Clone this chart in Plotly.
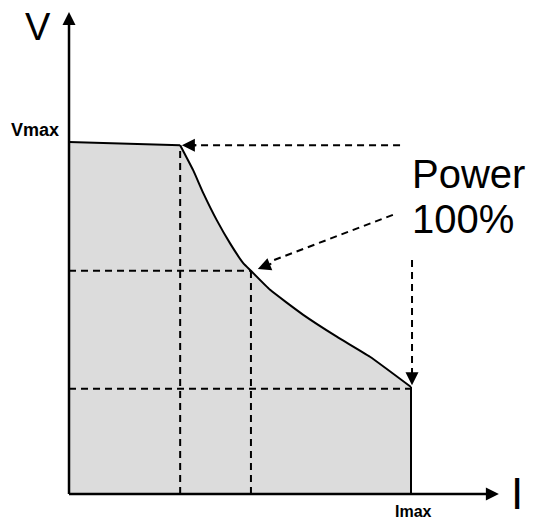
import plotly.graph_objects as go

# Data (I and V in % of Imax / Vmax)
I_curve = [0, 32.5, 36.3, 39.3, 43.2, 47.1, 51.0, 53.2, 58.8, 68.5, 78.3, 88.0, 100, 100]
V_curve = [100, 99.1, 92.0, 85.4, 77.8, 71.2, 65.5, 63.4, 58.0, 50.9, 44.7, 39.0, 30.4, 0]

P1 = (32.5, 99.1)    # start of constant power region
P2 = (53.2, 63.4)    # mid point
P3 = (100, 30.4)     # Imax point
AXIS_I_END = 125.7
AXIS_V_END = 136.9

labels = {"V": "V", "I": "I", "Vmax": "Vmax", "Imax": "Imax", "power": "Power", "pct": "100%"}

FONT = "Arial, Liberation Sans, sans-serif"

fig = go.Figure()
# filled region
fig.add_trace(go.Scatter(x=I_curve, y=V_curve, mode="lines", fill="tozeroy",
                         fillcolor="#dcdcdc", line=dict(color="rgba(0,0,0,0)", width=0),
                         hoverinfo="skip", showlegend=False))
# outline: flat part, smooth power curve, vertical drop
fig.add_trace(go.Scatter(x=I_curve[:2], y=V_curve[:2], mode="lines",
                         line=dict(color="black", width=2), hoverinfo="skip", showlegend=False))
fig.add_trace(go.Scatter(x=I_curve[1:-1], y=V_curve[1:-1], mode="lines",
                         line=dict(color="black", width=2, shape="spline", smoothing=0.45),
                         hoverinfo="skip", showlegend=False))
fig.add_trace(go.Scatter(x=I_curve[-2:], y=V_curve[-2:], mode="lines",
                         line=dict(color="black", width=2), hoverinfo="skip", showlegend=False))

shapes = []
def dline(x0, y0, x1, y1, dash="dash", w=2):
    shapes.append(dict(type="line", xref="x", yref="y", x0=x0, y0=y0, x1=x1, y1=y1,
                       line=dict(color="black", width=w, dash=dash), layer="above"))

dashp = "7px,5px"
# guide lines
dline(P1[0], 0, P1[0], P1[1], dashp)
dline(0, P2[1], P2[0], P2[1], dashp)
dline(P2[0], 0, P2[0], P2[1], dashp)
dline(0, P3[1] - 0.5, P3[0], P3[1] - 0.5, dashp)
# arrow shafts from "Power 100%"
dline(96.8, P1[1], P1[0] + 3.5, P1[1], dashp)
dline(94.7, 79.3, P2[0] + 5.5, 66.0, dashp)
dline(P3[0] + 0.3, 66.5, P3[0] + 0.3, P3[1] + 4, dashp)
# axes
dline(0, 0, 0, AXIS_V_END - 2, "solid", 2.5)
dline(0, 0, AXIS_I_END - 2, 0, "solid", 2.5)

ann = []
def arrow(x, y, ax, ay):
    ann.append(dict(x=x, y=y, ax=ax, ay=ay, xref="x", yref="y", axref="pixel", ayref="pixel",
                    showarrow=True, arrowhead=2, arrowsize=1.3, arrowwidth=2,
                    arrowcolor="black", text=""))

arrow(0, AXIS_V_END, 0, 14)
arrow(AXIS_I_END, 0, -14, 0)
arrow(P1[0] + 0.5, P1[1], 16, 0)
arrow(P2[0] + 2.0, P2[1] + 0.5, 15, -6)
arrow(P3[0] + 0.3, P3[1] + 0.5, 0, -16)

def text(x, y, t, size, bold=False, xanchor="center"):
    ann.append(dict(x=x, y=y, xref="x", yref="y", text=f"<b>{t}</b>" if bold else t,
                    showarrow=False, xanchor=xanchor, yanchor="middle",
                    font=dict(family=FONT, size=size, color="black")))

text(-9.2, 132.8, labels["V"], 38)
text(131.1, 0, labels["I"], 44)
text(-2.3, 103.3, labels["Vmax"], 18, bold=True, xanchor="right")
text(100.6, -4.9, labels["Imax"], 16, bold=True)
text(99.6, 90.8, labels["power"], 40, xanchor="left")
text(99.6, 78.0, labels["pct"], 40, xanchor="left")

fig.update_layout(
    width=539, height=520, margin=dict(l=0, r=0, t=0, b=0),
    paper_bgcolor="white", plot_bgcolor="white",
    xaxis=dict(range=[-20.18, 137.43], visible=False, fixedrange=True),
    yaxis=dict(range=[-7.39, 140.34], visible=False, fixedrange=True),
    shapes=shapes, annotations=ann, showlegend=False,
)
fig.write_html("out.html", config={"displayModeBar": False},
               post_script="document.body.style.margin='0';document.body.style.padding='0';")
